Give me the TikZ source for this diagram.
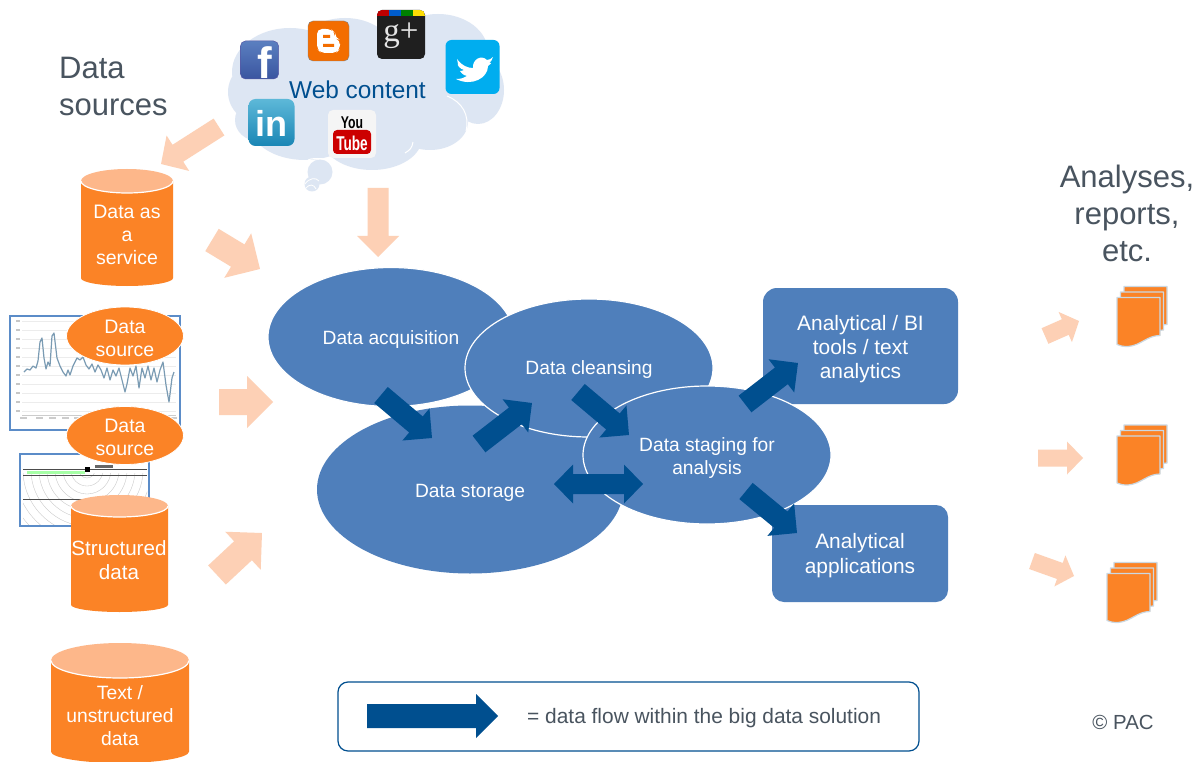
\documentclass[tikz,border=0pt]{standalone}
\usepackage{fontspec}
\setmainfont{Liberation Sans}
\newfontfamily\gpfont{Liberation Serif}
\usetikzlibrary{calc,shapes.geometric}
\definecolor{blobblue}{HTML}{4F7FBB}
\definecolor{darkflow}{HTML}{004F8F}
\definecolor{orangeb}{HTML}{FB8326}
\definecolor{orangetop}{HTML}{FDB78A}
\definecolor{paleflow}{HTML}{FDD0B5}
\definecolor{cloudblue}{HTML}{DDE6F3}
\definecolor{slatetxt}{HTML}{49545F}
\definecolor{sheetedge}{HTML}{CBD8E2}
\definecolor{chartedge}{HTML}{5B8CC8}
\definecolor{fbtop}{HTML}{5B7FC0}
\definecolor{fbbot}{HTML}{3A55A0}
\definecolor{blogorange}{HTML}{F36D00}
\definecolor{twblue}{HTML}{00ADEF}
\definecolor{litop}{HTML}{5DB8D8}
\definecolor{libot}{HTML}{1A86B5}
\definecolor{chartline}{HTML}{7A9BB3}
\newcommand\fs[2]{\fontsize{#1}{#2}\selectfont}
\tikzset{
  blob/.style={ellipse,draw=white,line width=1.2pt,fill=blobblue,inner sep=0pt},
  blobtxt/.style={text=white,align=center,font=\fs{19.2}{23}},
  boxb/.style={draw=none,fill=blobblue,rounded corners=14pt,inner sep=0pt},
  boxtxt/.style={text=white,align=center,font=\fs{20.9}{24}},
  srcell/.style={ellipse,fill=orangeb,draw=white,line width=0.8pt,inner sep=0pt},
  headtxt/.style={text=slatetxt,align=center,font=\fs{31}{37}},
  cyltxt/.style={text=white,align=center,font=\fs{19.5}{23}},
  icon/.style={rounded corners=5pt,inner sep=0pt},
}
% block arrow from coordinate #1 to coordinate #2: shaft #3, head length #4, colour #5; head width in \headw
\newcommand\blockarrow[5]{%
  \path let \p1=(#1),\p2=(#2),\n1={atan2(\y2-\y1,\x2-\x1)},\n2={veclen(\x2-\x1,\y2-\y1)} in
    \pgfextra{\pgfmathsetmacro\myang{\n1}\pgfmathsetmacro\mylen{\n2}\xdef\myang{\myang}\xdef\mylen{\mylen}};
  \begin{scope}[shift={(#1)},rotate=\myang,x=1pt,y=1pt]
    \fill[#5] (0,{#3/2}) -- ({\mylen-#4},{#3/2}) -- ({\mylen-#4},{\headw/2}) -- (\mylen,0)
      -- ({\mylen-#4},{-\headw/2}) -- ({\mylen-#4},{-#3/2}) -- (0,{-#3/2}) -- cycle;
  \end{scope}}
\newcommand\palearrow[2]{\def\headw{52}\blockarrow{#1}{#2}{26}{26}{paleflow}}
\newcommand\cyl[6]{% name cx ytop ybottom rx ry
  \fill[orangeb] (#2-#5,#3+#6) -- (#2-#5,#4-#6*0.65)
     .. controls (#2-#5,#4-#6*0.3) and (#2-#5*0.55,#4) .. (#2,#4)
     .. controls (#2+#5*0.55,#4) and (#2+#5,#4-#6*0.3) .. (#2+#5,#4-#6*0.65) -- (#2+#5,#3+#6) -- cycle;
  \node[ellipse,fill=orangetop,minimum width=2*#5 pt,minimum height=2*#6 pt,inner sep=0pt] (#1) at (#2,#3+#6) {};
  \draw[white,line width=1.2pt] (#2-#5,#3+#6) .. controls (#2-#5,#3+#6*1.55) and (#2-#5*0.55,#3+#6*2) .. (#2,#3+#6*2)
     .. controls (#2+#5*0.55,#3+#6*2) and (#2+#5,#3+#6*1.55) .. (#2+#5,#3+#6);}
\newcommand\docstack[3]{% name, x, y of the front sheet
  \begin{scope}[shift={(#2,#3)}]
    \coordinate (#1) at (0,0);
    \foreach \dx/\dy in {7/-11,3.5/-5.5,0/0}{
      \fill[orangeb,draw=sheetedge,line width=1.2pt,line join=round,shift={(\dx,\dy)}]
        (0,0) -- (43,0) -- (43,38)
        .. controls (30,38) and (24,48) .. (11,49) .. controls (6,49) and (3,48.5) .. (0,47) -- cycle;
    }
  \end{scope}}
\begin{document}
\begin{tikzpicture}[x=1pt,y=-1pt]
\useasboundingbox (0,0) rectangle (1202,762);
\fill[white] (0,0) rectangle (1202,762);

% ---------- cloud
\fill[cloudblue]
  (290,72) ellipse [x radius=58,y radius=44]
  (262,92) ellipse [x radius=34,y radius=32]
  (258,120) ellipse [x radius=23,y radius=21]
  (345,52) ellipse [x radius=48,y radius=34]
  (438,52) ellipse [x radius=50,y radius=38]
  (478,90) ellipse [x radius=26,y radius=34]
  (430,122) ellipse [x radius=38,y radius=28]
  (372,138) ellipse [x radius=50,y radius=32]
  (305,125) ellipse [x radius=55,y radius=35]
  (370,90) ellipse [x radius=90,y radius=50]
  (320,172) circle [radius=12.5]
  (312,184) circle [radius=7.5];
\draw[white,line width=1pt] (447,96) .. controls (462,102) and (470,115) .. (466,131);
\draw[white,line width=1pt] (413,142) .. controls (412,148) and (410,150) .. (405,153);
\draw[white,line width=1pt] (308,160) .. controls (312,158) and (322,158) .. (330,160);
\draw[white,line width=0.8pt] (305,184) .. controls (309,178) and (316,177) .. (319,181)
  (306,188) .. controls (309,184) and (314,184) .. (316,189);

% ---------- icons
\node[icon,top color=fbtop,bottom color=fbbot,draw=gray!70!blue,line width=.5pt,minimum width=38pt,minimum height=38pt] (fb) at (259.5,60) {};
\node[text=white,font=\bfseries\fs{44}{44}] (fbt) at (265,63) {f};
\node[icon,fill=blogorange,draw=gray,line width=.4pt,minimum width=41pt,minimum height=40pt] (blog) at (328.5,41) {};
\fill[white,rounded corners=5pt] (317,29) -- (331,29) -- (335,33) -- (335,38) -- (340,40) -- (340,49) -- (336,53) -- (321,53) -- (317,49) -- cycle;
\fill[blogorange] (323,35) rectangle (330,38) (323,44) rectangle (334,47);
\node[icon,fill=black!88,minimum width=48pt,minimum height=49pt] (gp) at (401,34.5) {};
\begin{scope}
  \clip[rounded corners=5pt] (377,10) rectangle (425,30);
  \fill[red!75!black] (377,10) rectangle (389,16);
  \fill[blue!55!cyan!80!black] (389,10) rectangle (401,16);
  \fill[green!50!black] (401,10) rectangle (413,16);
  \fill[yellow!80!orange] (413,10) rectangle (425,16);
\end{scope}
\node[text=white!90!black,font=\gpfont\fs{33}{33}] (gpt) at (401,36) {g+};
\node[icon,fill=twblue,minimum width=54pt,minimum height=54pt,rounded corners=6pt] (tw) at (472.5,67) {};
\fill[white] (457,59) .. controls (462,66) and (468,68) .. (473,68)
  .. controls (472,60) and (481,54) .. (487,60) .. controls (489,60) and (491,59) .. (493,57)
  .. controls (492,60) and (491,62) .. (489,63) .. controls (491,63) and (493,62) .. (488,66)
  .. controls (488,78) and (472,87) .. (456,79) .. controls (461,79) and (464,78) .. (467,76)
  .. controls (463,75) and (461,73) .. (460,71) .. controls (461,71) and (462,71) .. (464,70)
  .. controls (460,69) and (457,65) .. (458,64) -- cycle;
\node[icon,top color=litop,bottom color=libot,minimum width=46pt,minimum height=47pt,rounded corners=7pt] (li) at (271.5,122.5) {};
\node[text=white,font=\bfseries\fs{36}{36}] (lit) at (271.5,123) {in};
\node[icon,fill=gray!8,minimum width=48pt,minimum height=48pt] (yt) at (352,134) {};
\fill[red!80!black,rounded corners=4pt] (333,130) rectangle (371,154);
\node[text=black,font=\bfseries\fs{17}{17},xscale=.72] (yta) at (352,123) {You};
\node[text=white,font=\bfseries\fs{20}{20},xscale=.68] (ytb) at (352,143) {Tube};
\node[text=darkflow,font=\fs{24.4}{28}] (web) at (357.5,90) {Web content};

% ---------- headings
\node[headtxt,align=left,anchor=north west,inner sep=0pt] (hsrc) at (59,57) {Data\\sources};
\node[headtxt] (hout) at (1127,213) {Analyses,\\reports,\\etc.};

% ---------- chart panel
\node[draw=chartedge,line width=1.2pt,fill=white,minimum width=170pt,minimum height=114pt,inner sep=0pt] (chart) at (95,373) {};
\foreach \yy in {321,330,339,348,357,366,375,384,393,402,411}{
  \draw[gray!15,line width=.35pt] (22,\yy) -- (176,\yy);}
\draw[gray!40,line width=.4pt] (22,415) -- (176,415);
\foreach \xx in {24,40,53,66,78,90,102,114,126,138,150,162,174}{
  \fill[gray!40] (\xx-4,417) rectangle (\xx+3,419);}
\foreach \yy in {321,330,339,348,357,366,375,384,393,402,411}{
  \fill[gray!45] (16,\yy-1) rectangle (20,\yy+1);}
\draw[chartline,line width=1.2pt,line join=round]
  (24,372) -- (27,369) -- (30,370) -- (33,366) -- (36,368) -- (38,361) -- (40,342) -- (42,338) -- (44,358)
  -- (46,369) -- (48,362) -- (50,366) -- (52,336) -- (54,333) -- (57,358) -- (60,366) -- (63,372) -- (66,376)
  -- (68,370) -- (70,375) -- (73,366) -- (77,358) -- (80,360) -- (83,357) -- (86,365) -- (89,369) -- (92,364)
  -- (95,372) -- (98,365) -- (101,370) -- (104,378) -- (107,368) -- (110,380) -- (113,370) -- (116,376)
  -- (119,368) -- (122,380) -- (125,392) -- (127,384) -- (130,368) -- (133,376) -- (136,366) -- (139,388)
  -- (142,368) -- (145,378) -- (148,366) -- (151,380) -- (154,368) -- (157,382) -- (160,370) -- (163,362)
  -- (166,385) -- (169,402) -- (172,378) -- (174,372);

% ---------- seismic panel
\node[draw=chartedge,line width=1.2pt,fill=white,minimum width=129pt,minimum height=72pt,inner sep=0pt] (seis) at (84.5,490) {};
\begin{scope}
  \clip (23,473) rectangle (147,524);
  \foreach \r in {8,16,...,96}{
    \draw[gray!45,line width=.35pt] (87,470) circle [radius=\r];}
\end{scope}
\fill[green!35!white] (27,471) rectangle (85,474);
\draw[black!70,line width=.7pt] (23,469) -- (147,469);
\draw[black!70,line width=.7pt] (23,475) -- (147,475);
\draw[black!70,line width=.7pt] (23,499) -- (147,499);
\fill[black] (85,467) rectangle (90,472);
\fill[black!60] (95,465) rectangle (113,468);

% ---------- source shapes
\node[srcell,minimum width=117pt,minimum height=58pt] (ds1) at (125,336) {};
\node[cyltxt] (ds1t) at (125,338) {Data\\source};
\node[srcell,minimum width=117pt,minimum height=58pt] (ds2) at (125,435.5) {};
\node[cyltxt] (ds2t) at (125,437) {Data\\source};
\cyl{cyla}{127}{169}{286}{46}{12}
\node[cyltxt] (cylat) at (127,235) {Data as\\a\\service};
\cyl{cylb}{119.5}{495}{612}{48.5}{11}
\node[cyltxt,font=\fs{20.6}{24}] (cylbt) at (119,560) {Structured\\data};
\cyl{cylc}{120}{643}{763}{69}{17.5}
\node[cyltxt,font=\fs{19.3}{23}] (cylct) at (120,716) {Text /\\unstructured\\data};

% ---------- blue blobs and boxes
\node[boxb,minimum width=195pt,minimum height=116pt] (bi) at (860.5,346) {};
\node[boxb,minimum width=176pt,minimum height=97pt,rounded corners=12pt] (app) at (860,553.5) {};
\node[blob,minimum width=246pt,minimum height=139pt] (acq) at (391,337) {};
\node[blob,draw=none,minimum width=306pt,minimum height=168pt] (sto) at (470,489.5) {};
\node[blob,minimum width=248pt,minimum height=138pt] (cle) at (589,368) {};
\node[blob,minimum width=248pt,minimum height=138pt] (sta) at (707,455) {};
\node[blobtxt] (acqt) at (391,340) {Data acquisition};
\node[blobtxt] (stot) at (470,493) {Data storage};
\node[blobtxt] (clet) at (589,369.5) {Data cleansing};
\node[blobtxt] (stat) at (707,458.5) {Data staging for\\analysis};
\node[boxtxt] (bit) at (860.5,349) {Analytical / BI\\tools / text\\analytics};
\node[boxtxt,font=\fs{20.9}{25}] (appt) at (860,556) {Analytical\\applications};

% ---------- pale arrows
\coordinate (p1a) at (219,127); \coordinate (p1b) at (161,164);
\coordinate (p2a) at (212,240); \coordinate (p2b) at (260,269);
\coordinate (p3a) at (219,402); \coordinate (p3b) at (273,402);
\coordinate (p4a) at (217,575); \coordinate (p4b) at (262,533);
\coordinate (p5a) at (378,188); \coordinate (p5b) at (378,257);
\def\headw{42}\blockarrow{p1a}{p1b}{20}{20}{paleflow}
\palearrow{p2a}{p2b}
\palearrow{p3a}{p3b}
\palearrow{p4a}{p4b}
\def\headw{42}\blockarrow{p5a}{p5b}{21}{21}{paleflow}
\coordinate (r1a) at (1045,336); \coordinate (r1b) at (1079,321);
\coordinate (r2a) at (1038,458); \coordinate (r2b) at (1083,458);
\coordinate (r3a) at (1032,561); \coordinate (r3b) at (1074,576);
\def\headw{33}\blockarrow{r1a}{r1b}{17}{15}{paleflow}
\def\headw{33}\blockarrow{r2a}{r2b}{17}{16}{paleflow}
\def\headw{33}\blockarrow{r3a}{r3b}{17}{15}{paleflow}

% ---------- dark arrows
\coordinate (d1a) at (381,395); \coordinate (d1b) at (432,438);
\coordinate (d2a) at (479,444); \coordinate (d2b) at (532,403);
\coordinate (d3a) at (578,392); \coordinate (d3b) at (629,435);
\coordinate (d5a) at (745,404); \coordinate (d5b) at (798,363);
\coordinate (d6a) at (746,491); \coordinate (d6b) at (797,533);
\def\headw{42}
\blockarrow{d1a}{d1b}{21}{21}{darkflow}
\blockarrow{d2a}{d2b}{21}{21}{darkflow}
\blockarrow{d3a}{d3b}{21}{21}{darkflow}
\blockarrow{d5a}{d5b}{21}{21}{darkflow}
\blockarrow{d6a}{d6b}{21}{21}{darkflow}
\coordinate (d4a) at (554,484); \coordinate (d4b) at (643,484);
\fill[darkflow] (d4a) -- ++(19,-19.5) -- ++(0,9.5) -- ++(51,0) -- ++(0,-9.5) -- (d4b) -- ++(-19,19.5) -- ++(0,-9.5)
  -- ++(-51,0) -- ++(0,9.5) -- cycle;

% ---------- document stacks
\docstack{doca}{1117}{297.5}
\docstack{docb}{1117}{436}
\docstack{docc}{1107}{573.5}

% ---------- legend
\node[draw=darkflow,line width=1.2pt,rounded corners=10pt,minimum width=581pt,minimum height=69pt,inner sep=0pt] (leg) at (628.5,716.5) {};
\coordinate (la) at (367,716); \coordinate (lb) at (498,716);
\def\headw{44}\blockarrow{la}{lb}{24}{22}{darkflow}
\node[text=slatetxt,font=\fs{20.9}{24},anchor=west,inner sep=0pt] (legt) at (527,718) {= data flow within the big data solution};
\node[text=slatetxt,font=\fs{20.4}{24}] (cpr) at (1123,722) {© PAC};
\end{tikzpicture}
\end{document}
